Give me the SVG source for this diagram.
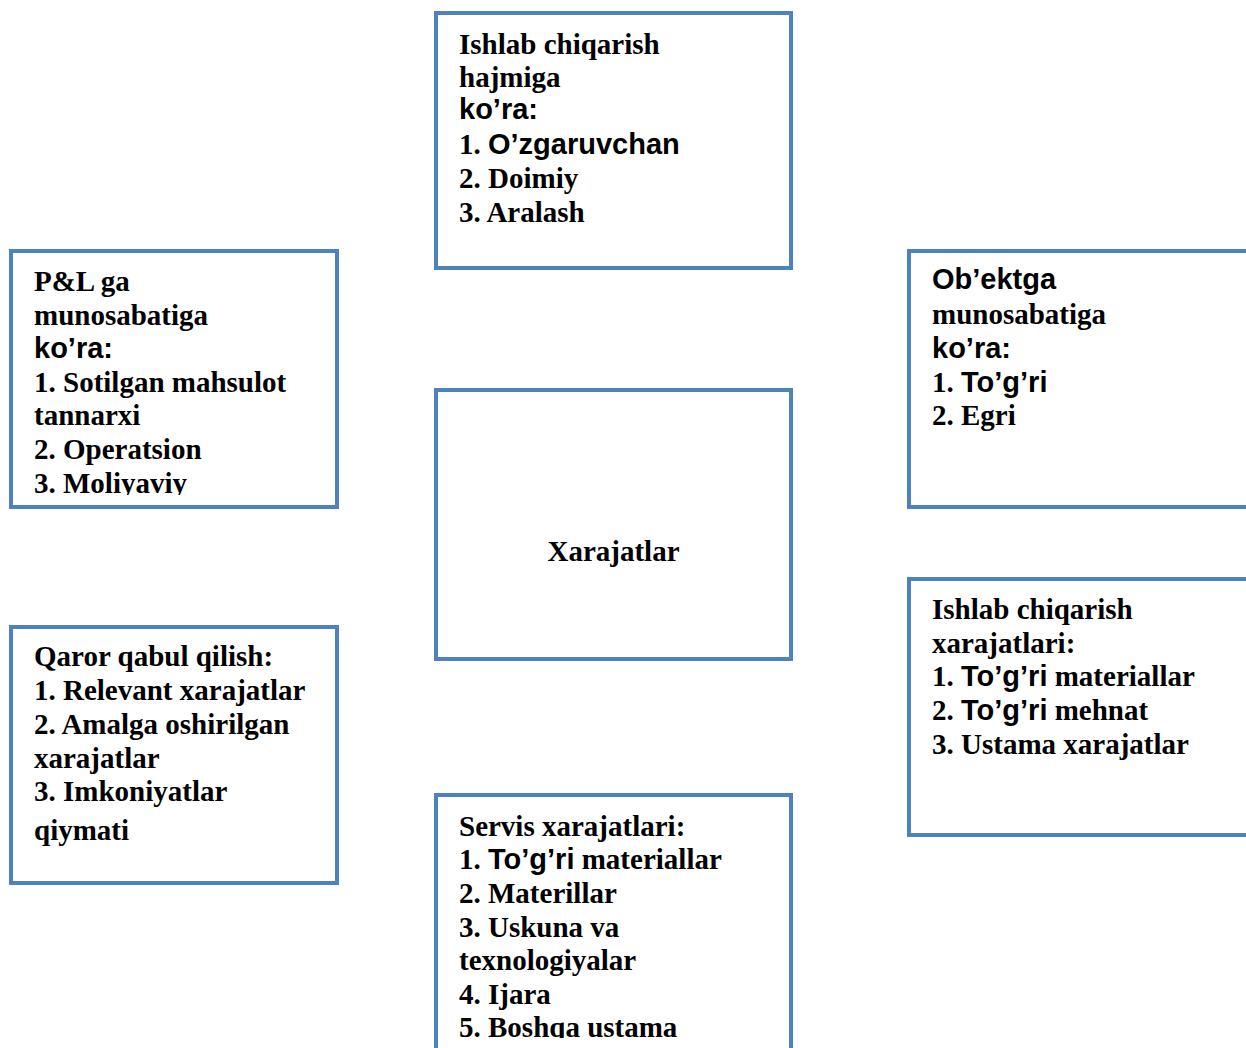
<svg xmlns="http://www.w3.org/2000/svg" width="1246" height="1048" viewBox="0 0 1246 1048">
<style>
.box{fill:#fff;stroke:#4f81bd;stroke-width:4}
.t{font-family:"Liberation Serif","Times New Roman",serif;font-weight:bold;font-size:29px;fill:#000}
.s{font-family:"Liberation Sans",Arial,sans-serif}
</style>
<defs>
<clipPath id="clipPL"><rect x="0" y="240" width="400" height="255"/></clipPath>
<clipPath id="clipSv"><rect x="420" y="780" width="400" height="258"/></clipPath>
</defs>
<rect width="1246" height="1048" fill="#fff"/>
<g id="connectors"/>
<g id="node-hajm">
<rect class="box" x="436" y="13" width="355" height="255"/>
<text class="t" x="459"><tspan x="459" y="54">Ishlab chiqarish</tspan><tspan x="459" y="87">hajmiga</tspan><tspan x="459" y="119" class="s">ko’ra:</tspan><tspan x="459" y="153.5">1. <tspan class="s">O’zgaruvchan</tspan></tspan><tspan x="459" y="188">2. Doimiy</tspan><tspan x="459" y="222">3. Aralash</tspan></text>
</g>
<g id="node-pl">
<rect class="box" x="11" y="251" width="326" height="256"/>
<text class="t" clip-path="url(#clipPL)"><tspan x="34" y="291">P&amp;L ga</tspan><tspan x="34" y="325">munosabatiga</tspan><tspan x="34" y="358" class="s">ko’ra:</tspan><tspan x="34" y="392">1. Sotilgan mahsulot</tspan><tspan x="34" y="425">tannarxi</tspan><tspan x="34" y="459">2. Operatsion</tspan><tspan x="34" y="493">3. Moliyaviy</tspan></text>
</g>
<g id="node-obekt">
<rect class="box" x="909" y="251" width="345" height="256"/>
<text class="t"><tspan x="932" y="289" class="s">Ob’ektga</tspan><tspan x="932" y="324">munosabatiga</tspan><tspan x="932" y="358" class="s">ko’ra:</tspan><tspan x="932" y="392">1. <tspan class="s">To’g’ri</tspan></tspan><tspan x="932" y="425">2. Egri</tspan></text>
</g>
<g id="node-center">
<rect class="box" x="436" y="390" width="355" height="269"/>
<text class="t" x="613.5" y="561" text-anchor="middle">Xarajatlar</text>
</g>
<g id="node-qaror">
<rect class="box" x="11" y="627" width="326" height="256"/>
<text class="t"><tspan x="34" y="666">Qaror qabul qilish:</tspan><tspan x="34" y="700">1. Relevant xarajatlar</tspan><tspan x="34" y="734">2. Amalga oshirilgan</tspan><tspan x="34" y="768">xarajatlar</tspan><tspan x="34" y="801">3. Imkoniyatlar</tspan><tspan x="34" y="840">qiymati</tspan></text>
</g>
<g id="node-ishlab">
<rect class="box" x="909" y="579" width="345" height="256"/>
<text class="t"><tspan x="932" y="619">Ishlab chiqarish</tspan><tspan x="932" y="653">xarajatlari:</tspan><tspan x="932" y="686">1. <tspan class="s">To’g’ri</tspan> materiallar</tspan><tspan x="932" y="720">2. <tspan class="s">To’g’ri</tspan> mehnat</tspan><tspan x="932" y="754">3. Ustama xarajatlar</tspan></text>
</g>
<g id="node-servis">
<rect class="box" x="436" y="795" width="355" height="270"/>
<text class="t" clip-path="url(#clipSv)"><tspan x="459" y="836">Servis xarajatlari:</tspan><tspan x="459" y="869">1. <tspan class="s">To’g’ri</tspan> materiallar</tspan><tspan x="459" y="903">2. Materillar</tspan><tspan x="459" y="937">3. Uskuna va</tspan><tspan x="459" y="970">texnologiyalar</tspan><tspan x="459" y="1004">4. Ijara</tspan><tspan x="459" y="1037">5. Boshqa ustama</tspan></text>
</g>
</svg>
